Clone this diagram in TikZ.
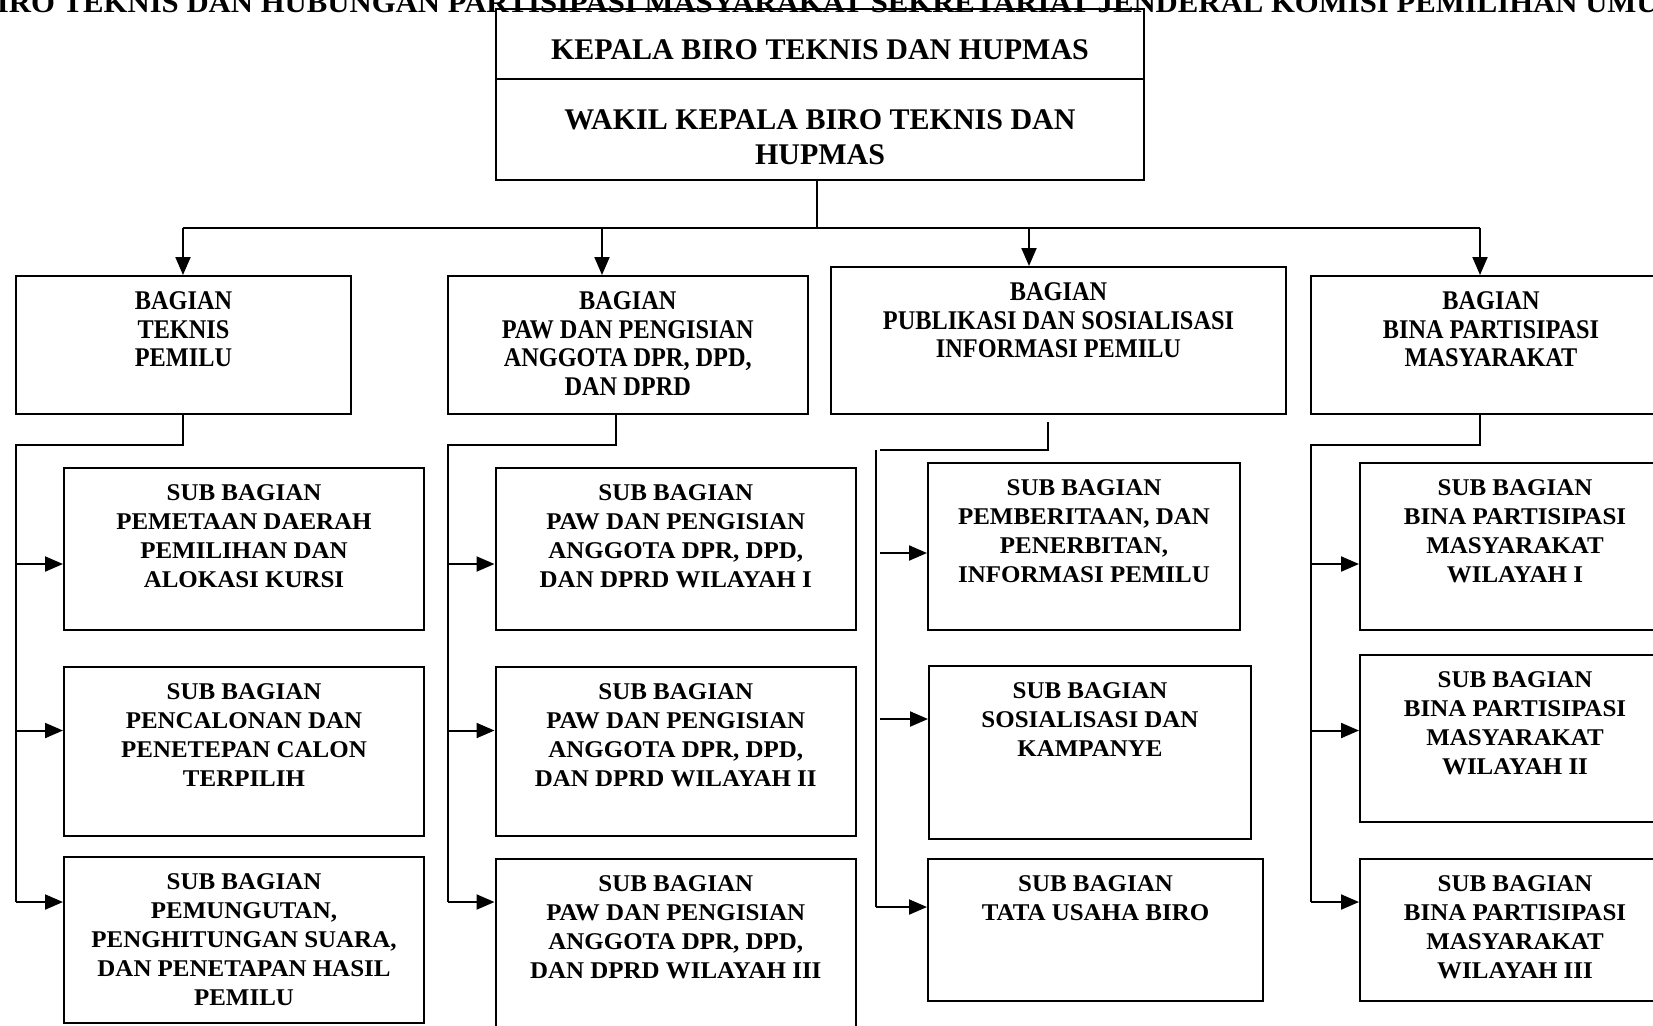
\documentclass[tikz,border=0pt]{standalone}
\usepackage{fontspec}
\setmainfont{Liberation Serif}
\newfontfamily\hurufatas{Liberation Serif}
\newfontfamily\hurufjudul[FakeStretch=1.06]{Liberation Serif}
\newfontfamily\hurufbag[FakeStretch=0.9]{Liberation Serif}
\newfontfamily\hurufsub[FakeStretch=1.04]{Liberation Serif}
\usetikzlibrary{arrows.meta,positioning,fit}

\tikzset{
    kotak/.style={draw, line width=1pt, inner sep=0pt},
    garis/.style={line width=1pt},
    panah/.style={line width=1pt, -{Triangle[length=9pt,width=7.5pt]}},
    tulisatas/.style={below=15.8pt, inner sep=0pt, align=center,
        font=\hurufatas\bfseries\fontsize{15}{17.5}\selectfont},
    tulisbag/.style={below=8.2pt, inner sep=0pt, align=center,
        font=\hurufbag\bfseries\fontsize{13.5}{14.25}\selectfont},
    tulissub/.style={below=8.4pt, inner sep=0pt, align=center,
        font=\hurufsub\bfseries\fontsize{12}{14.5}\selectfont}
}

\begin{document}
\begin{tikzpicture}[x=0.5pt, y=-0.5pt]
    \clip (0,0) rectangle (1653,1025);

    % judul (terpotong di atas)
    \node[anchor=base west, inner sep=0pt, font=\hurufjudul\bfseries\fontsize{14.5}{17}\selectfont] (judul) at (-24,12)
        {BIRO TEKNIS DAN HUBUNGAN PARTISIPASI MASYARAKAT SEKRETARIAT JENDERAL KOMISI PEMILIHAN UMUM};

    % pimpinan
    \node[kotak, fit={(496,9) (1144,79)},
        label={[tulisatas]north:KEPALA BIRO TEKNIS DAN HUPMAS}] (kepala) {};
    \node[kotak, fit={(496,79) (1144,180)},
        label={[tulisatas]north:WAKIL KEPALA BIRO TEKNIS DAN\\HUPMAS}] (wakil) {};

    % bagian
    \node[kotak, fit={(16,276) (351,414)},
        label={[tulisbag]north:BAGIAN\\TEKNIS\\PEMILU}] (bag1) {};
    \node[kotak, fit={(448,276) (807.5,414)},
        label={[tulisbag]north:BAGIAN\\PAW DAN PENGISIAN\\ANGGOTA DPR, DPD,\\DAN DPRD}] (bag2) {};
    \node[kotak, fit={(831,267) (1286,414)},
        label={[tulisbag]north:BAGIAN\\PUBLIKASI DAN SOSIALISASI\\INFORMASI PEMILU}] (bag3) {};
    \node[kotak, fit={(1311,276) (1671,414)},
        label={[tulisbag]north:BAGIAN\\BINA PARTISIPASI\\MASYARAKAT}] (bag4) {};

    % sub bagian teknis pemilu
    \node[kotak, fit={(64,468) (424,630)},
        label={[tulissub]north:SUB BAGIAN\\PEMETAAN DAERAH\\PEMILIHAN DAN\\ALOKASI KURSI}] (s11) {};
    \node[kotak, fit={(64,667) (424,836)},
        label={[tulissub]north:SUB BAGIAN\\PENCALONAN DAN\\PENETEPAN CALON\\TERPILIH}] (s12) {};
    \node[kotak, fit={(64,857) (424,1023)},
        label={[tulissub]north:SUB BAGIAN\\PEMUNGUTAN,\\PENGHITUNGAN SUARA,\\DAN PENETAPAN HASIL\\PEMILU}] (s13) {};

    % sub bagian paw
    \node[kotak, fit={(495.5,468) (856,630)},
        label={[tulissub]north:SUB BAGIAN\\PAW DAN PENGISIAN\\ANGGOTA DPR, DPD,\\DAN DPRD WILAYAH I}] (s21) {};
    \node[kotak, fit={(495.5,667) (856,836)},
        label={[tulissub]north:SUB BAGIAN\\PAW DAN PENGISIAN\\ANGGOTA DPR, DPD,\\DAN DPRD WILAYAH II}] (s22) {};
    \node[kotak, fit={(495.5,859) (856,1040)},
        label={[tulissub]north:SUB BAGIAN\\PAW DAN PENGISIAN\\ANGGOTA DPR, DPD,\\DAN DPRD WILAYAH III}] (s23) {};

    % sub bagian publikasi
    \node[kotak, fit={(928,463) (1240,630)},
        label={[tulissub]north:SUB BAGIAN\\PEMBERITAAN, DAN\\PENERBITAN,\\INFORMASI PEMILU}] (s31) {};
    \node[kotak, fit={(929,666) (1251,839)},
        label={[tulissub]north:SUB BAGIAN\\SOSIALISASI DAN\\KAMPANYE}] (s32) {};
    \node[kotak, fit={(928,859) (1263,1001)},
        label={[tulissub]north:SUB BAGIAN\\TATA USAHA BIRO}] (s33) {};

    % sub bagian bina partisipasi
    \node[kotak, fit={(1360,463) (1670,630)},
        label={[tulissub]north:SUB BAGIAN\\BINA PARTISIPASI\\MASYARAKAT\\WILAYAH I}] (s41) {};
    \node[kotak, fit={(1360,655) (1670,822)},
        label={[tulissub]north:SUB BAGIAN\\BINA PARTISIPASI\\MASYARAKAT\\WILAYAH II}] (s42) {};
    \node[kotak, fit={(1360,859) (1670,1001)},
        label={[tulissub]north:SUB BAGIAN\\BINA PARTISIPASI\\MASYARAKAT\\WILAYAH III}] (s43) {};

    % garis dari pimpinan ke bagian
    \coordinate (w) at (817,180);
    \coordinate (t1) at (183,228);
    \coordinate (t2) at (602,228);
    \coordinate (t3) at (1029,228);
    \coordinate (t4) at (1480,228);
    \draw[garis] (w) -- (w |- t1);
    \draw[garis] (t1) -- (t4);
    \foreach \i in {1,...,4}
        \draw[panah] (t\i) -- (t\i |- bag\i.north);

    % garis bagian ke sub bagian
    \coordinate (k1) at (183,445);
    \coordinate (r1) at (16,445);
    \coordinate (k2) at (616,445);
    \coordinate (r2) at (448,445);
    \coordinate (k4) at (1480,445);
    \coordinate (r4) at (1311,445);
    \foreach \j in {1,2,4} {
        \draw[garis] (k\j |- bag\j.south) -- (k\j) -- (r\j) -- ++(0,457);
        \draw[panah] (r\j) ++(0,119) coordinate (a\j1) -- (a\j1 -| s\j1.west);
        \draw[panah] (r\j) ++(0,285.5) coordinate (a\j2) -- (a\j2 -| s\j2.west);
        \draw[panah] (r\j) ++(0,457) coordinate (a\j3) -- (a\j3 -| s\j3.west);
    }

    % kolom publikasi, garisnya agak bergeser
    \coordinate (k3a) at (1048,422);
    \coordinate (k3) at (1048,450);
    \coordinate (r3) at (880,450);
    \coordinate (v3) at (876,450);
    \coordinate (a31) at (880,553);
    \coordinate (a32) at (880,719);
    \coordinate (a33) at (876,907);
    \draw[garis] (k3a) -- (k3) -- (r3);
    \draw[garis] (v3) -- (a33);
    \draw[panah] (a31) -- (a31 -| s31.west);
    \draw[panah] (a32) -- (a32 -| s32.west);
    \draw[panah] (a33) -- (a33 -| s33.west);
\end{tikzpicture}
\end{document}
